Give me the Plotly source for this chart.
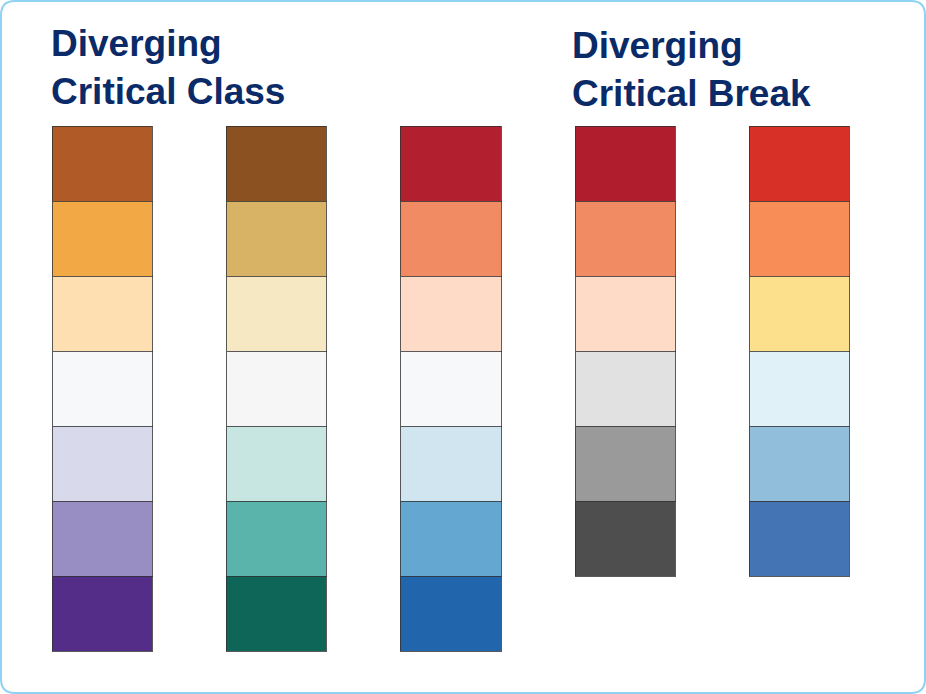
"""Diverging colour-scheme swatches (critical class / critical break)."""

import plotly.graph_objects as go

# palettes, top swatch first
palettes = ["PuOr", "BrBG", "RdBu", "RdGy", "RdYlBu"]
colors = {
    "PuOr": ["#B05A28", "#F2A844", "#FDDFB2", "#F7F8FA", "#D8DAEB", "#998EC3", "#542D88"],
    "BrBG": ["#8C5120", "#D8B366", "#F6E8C3", "#F5F6F5", "#C7E6E2", "#5AB4AC", "#0E6658"],
    "RdBu": ["#B2202F", "#F08B64", "#FDDBC7", "#F7F8FA", "#D1E5F0", "#64A8D2", "#2166AC"],
    "RdGy": ["#B01E2E", "#F08B64", "#FDDBC7", "#E0E1E0", "#9A9A9A", "#4D4E4D"],
    "RdYlBu": ["#D73127", "#F88D58", "#FDE08B", "#E0F2F8", "#91BFDB", "#4474B4"],
}
group_titles = ["Diverging<br>Critical Class", "Diverging<br>Critical Break"]

W, H = 926, 694
NAVY = "#0B2A68"

fig = go.Figure()

n_rows = max(len(c) for c in colors.values())
for k in range(n_rows):
    xs = [p for p in palettes if len(colors[p]) > k]
    fig.add_trace(
        go.Bar(
            x=xs,
            y=[1] * len(xs),
            marker=dict(
                color=[colors[p][k] for p in xs],
                line=dict(color="rgba(50,50,50,0.8)", width=1.5),
            ),
            width=0.574,
            hoverinfo="skip",
            showlegend=False,
        )
    )

# column spacing ~174 px, first centre at x=103; swatch rows 75 px from y=127
fig.update_xaxes(visible=False, range=[-103 / 174.25, (W - 103) / 174.25])
fig.update_yaxes(visible=False, range=[(H - 127) / 75, -127 / 75])

title_font = dict(family="Liberation Sans, Arial", size=37, color=NAVY, weight="bold")
fig.add_annotation(
    text=group_titles[0], x=49 / W, y=1 - 21 / H, xref="paper", yref="paper",
    xanchor="left", yanchor="top", align="left", showarrow=False, font=title_font,
)
fig.add_annotation(
    text=group_titles[1], x=570 / W, y=1 - 23 / H, xref="paper", yref="paper",
    xanchor="left", yanchor="top", align="left", showarrow=False, font=title_font,
)

# rounded frame
rx, ry = 14 / W, 14 / H
x0, x1 = 1 / W, 1 - 1 / W
y0, y1 = 1 / H, 1 - 1 / H
frame = (
    f"M {x0 + rx},{y1} L {x1 - rx},{y1} Q {x1},{y1} {x1},{y1 - ry} "
    f"L {x1},{y0 + ry} Q {x1},{y0} {x1 - rx},{y0} L {x0 + rx},{y0} "
    f"Q {x0},{y0} {x0},{y0 + ry} L {x0},{y1 - ry} Q {x0},{y1} {x0 + rx},{y1} Z"
)
fig.add_shape(type="path", path=frame, xref="paper", yref="paper",
              line=dict(color="#8FD2F2", width=2))

fig.update_layout(
    width=W,
    height=H,
    barmode="stack",
    bargap=0,
    margin=dict(l=0, r=0, t=0, b=0),
    paper_bgcolor="white",
    plot_bgcolor="white",
)

# drop the browser's default body margin so the figure sits at the page origin
fig.write_html(
    "out.html",
    config={"displayModeBar": False},
    post_script="document.body.style.margin = '0';",
)
